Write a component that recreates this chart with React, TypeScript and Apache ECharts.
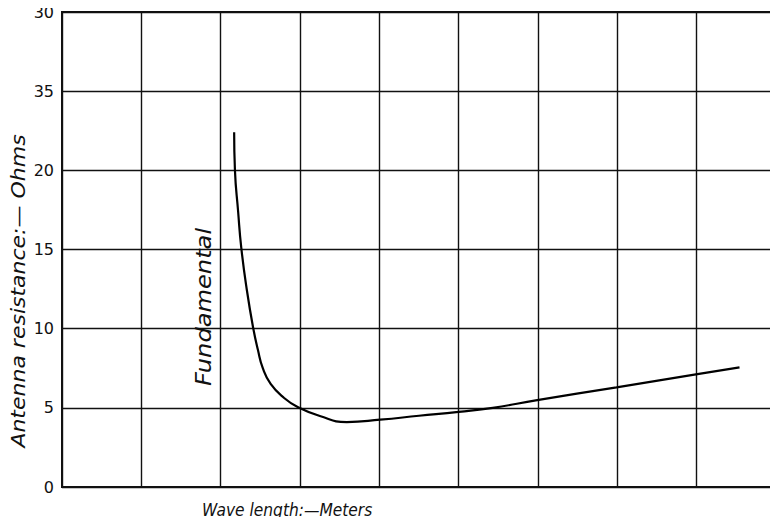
import React, { useEffect, useRef } from "react";
import * as echarts from "echarts";

// x in grid units (9 divisions), y in ohms
const curveX = [2.17, 2.18, 2.22, 2.26, 2.33, 2.41, 2.47, 2.53, 2.63, 2.8, 2.97, 3.25, 3.59, 4.01, 4.5, 5.0, 5.43, 5.99, 6.99, 7.99, 8.54];
const curveY = [22.4, 20.0, 17.4, 15.1, 12.44, 10.04, 8.65, 7.52, 6.51, 5.62, 5.05, 4.48, 4.1, 4.25, 4.5, 4.75, 5.0, 5.49, 6.29, 7.11, 7.56];
const yTickLabels = ["0", "5", "10", "15", "20", "35", "30"];
const yAxisTitle = "Antenna resistance:\u2014 Ohms";
const xAxisTitle = "Wave length:\u2014Meters";
const noteLabel = "Fundamental";

export default function App() {
  const ref = useRef<HTMLDivElement>(null);
  useEffect(() => {
    if (!ref.current) return;
    const chart = echarts.init(ref.current, null, { renderer: "svg" });
    const data = curveX.map((x, i) => [x, curveY[i]]);
    chart.setOption({
      animation: false,
      backgroundColor: "#fff",
      grid: {
        left: 62,
        top: 12,
        right: 2,
        bottom: 38,
        show: true,
        borderColor: "#111",
        borderWidth: 2,
      },
      xAxis: {
        type: "value",
        min: 0,
        max: 9,
        interval: 1,
        axisLabel: { show: false },
        axisTick: { show: false },
        axisLine: { show: true, lineStyle: { color: "#111", width: 2 } },
        splitLine: { show: true, lineStyle: { color: "#111", width: 1.4 } },
      },
      yAxis: {
        type: "value",
        min: 0,
        max: 30,
        interval: 5,
        axisTick: { show: false },
        axisLine: { show: true, lineStyle: { color: "#111", width: 2 } },
        splitLine: { show: true, lineStyle: { color: "#111", width: 1.4 } },
        axisLabel: {
          margin: 8,
          color: "#111",
          fontFamily: "DejaVu Sans",
          fontSize: 16,
          formatter: (v: number) => yTickLabels[Math.round(v / 5)] ?? "",
        },
      },
      series: [
        {
          type: "line",
          data,
          smooth: 0.5,
          showSymbol: false,
          symbol: "none",
          lineStyle: { color: "#000", width: 2.2 },
        },
      ],
      graphic: [
        {
          type: "text",
          x: 18,
          y: 291,
          rotation: Math.PI / 2,
          scaleX: 1.1,
          style: {
            text: yAxisTitle,
            fontFamily: "DejaVu Sans",
            fontStyle: "italic",
            fontSize: 20,
            fill: "#111",
            align: "center",
            verticalAlign: "middle",
          },
        },
        {
          type: "text",
          x: 202,
          y: 510,
          scaleX: 0.86,
          style: {
            text: xAxisTitle,
            fontFamily: "DejaVu Sans",
            fontStyle: "italic",
            fontSize: 18,
            fill: "#111",
            align: "left",
            verticalAlign: "middle",
          },
        },
        {
          type: "text",
          x: 204,
          y: 307,
          rotation: Math.PI / 2,
          scaleX: 1.15,
          style: {
            text: noteLabel,
            fontFamily: "DejaVu Sans",
            fontStyle: "italic",
            fontSize: 21,
            fill: "#111",
            align: "center",
            verticalAlign: "middle",
          },
        },
      ],
    });
    return () => chart.dispose();
  }, []);
  return <div ref={ref} style={{ width: 778, height: 525, margin: -8 }} />;
}
